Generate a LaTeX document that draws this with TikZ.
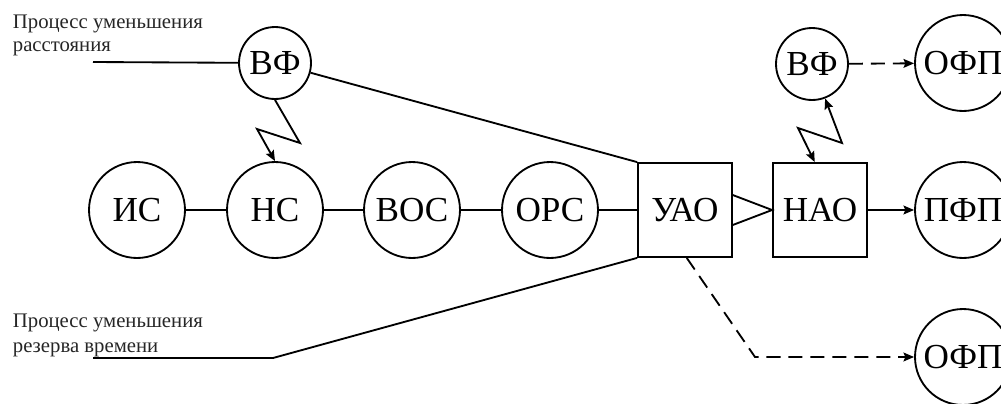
\documentclass[tikz,border=0pt]{standalone}
\usepackage{fontspec}
\setmainfont{Liberation Serif}
\usetikzlibrary{arrows.meta}
\begin{document}
\begin{tikzpicture}[x=0.02cm,y=-0.02cm,
  line width=1.05pt,
  big/.style={circle,draw,minimum size=1.92cm,inner sep=0pt,font=\fontsize{20}{24}\selectfont},
  small/.style={circle,draw,minimum size=1.44cm,inner sep=0pt,font=\fontsize{20}{24}\selectfont},
  box/.style={rectangle,draw,minimum width=1.88cm,minimum height=1.88cm,inner sep=0pt,font=\fontsize{20}{24}\selectfont},
  lbl/.style={anchor=base west,inner sep=0pt,font=\fontsize{11.8}{14}\selectfont,text=black!85},
  tip/.tip={Stealth[length=6pt,width=5pt,inset=1pt]},
  arr/.style={-tip},
  dsh/.style={dash pattern=on 8pt off 4.5pt}]
\useasboundingbox (0,0) rectangle (1001,403);

% nodes
\node[big] (is)  at (137,210) {ИС};
\node[big] (ns)  at (275,210) {НС};
\node[big] (vos) at (412,210) {ВОС};
\node[big] (ors) at (550,210) {ОРС};
\node[box] (uao) at (685,210) {УАО};
\node[box] (nao) at (820,210) {НАО};
\node[big] (pfp) at (963,210) {ПФП};
\node[small] (vf1) at (275,63) {ВФ};
\node[small] (vf2) at (812,64) {ВФ};
\node[big] (ofp1) at (963,63) {ОФП};
\node[big] (ofp2) at (963,357) {ОФП};

% labels
\node[lbl] (t1) at (12,28) {Процесс уменьшения};
\node[lbl] (t2) at (12,51) {расстояния};
\node[lbl] (t3) at (12,327) {Процесс уменьшения};
\node[lbl] (t4) at (12,352) {резерва времени};

% coordinates
\coordinate (c1) at (93,62);
\coordinate (c2) at (93,358);
\coordinate (b2) at (273,358);
\coordinate (b1) at (755,357);
\coordinate (z1) at (300,143);
\coordinate (z2) at (257,129);
\coordinate (z3) at (798,128);
\coordinate (z4) at (842,143);

% main chain
\draw (is) -- (ns);
\draw (ns) -- (vos);
\draw (vos) -- (ors);
\draw (ors) -- (uao);
\draw ([yshift=8.5pt]uao.east) -- (nao.west) -- ([yshift=-8.5pt]uao.east);
\draw[arr] (nao) -- (pfp);

% process lines
\draw (c1) -- (vf1);
\draw (vf1) -- (uao.north west);
\draw (c2) -- (b2) -- (uao.south west);

% zigzags
\draw[arr] (vf1.south) -- (z1) -- (z2) -- (ns.north);
\draw[tip-tip] ([xshift=-3pt]nao.north) -- (z3) -- (z4) -- (vf2);

% dashed
\draw[arr,dsh] (vf2) -- (ofp1);
\draw[arr,dsh] ([xshift=1pt]uao.south) -- (b1) -- (ofp2);
\end{tikzpicture}
\end{document}
